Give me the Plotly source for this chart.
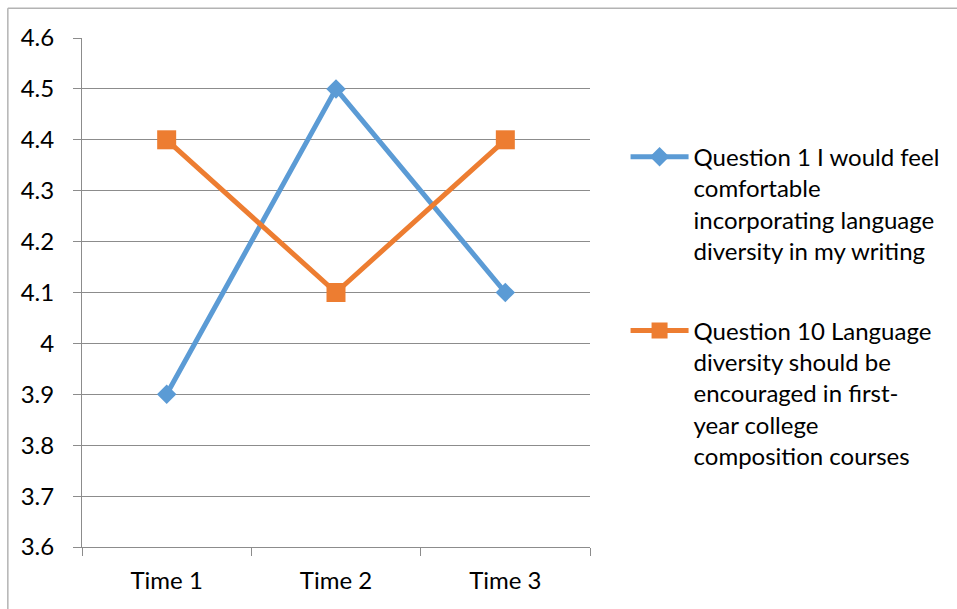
import plotly.graph_objects as go

# Survey averages across three time points
times = ["Time 1", "Time 2", "Time 3"]
q1_values = [3.9, 4.5, 4.1]
q10_values = [4.4, 4.1, 4.4]
q1_name = "Question 1 I would feel<br>comfortable<br>incorporating language<br>diversity in my writing"
q10_name = "Question 10 Language<br>diversity should be<br>encouraged in first-<br>year college<br>composition courses"
y_ticks = [3.6, 3.7, 3.8, 3.9, 4.0, 4.1, 4.2, 4.3, 4.4, 4.5, 4.6]
y_tick_labels = ["3.6", "3.7", "3.8", "3.9", "4", "4.1", "4.2", "4.3", "4.4", "4.5", "4.6"]

FONT = "Lato, Calibri, Carlito, sans-serif"
GRID = "#8c8c8c"

fig = go.Figure()
fig.add_trace(go.Scatter(
    x=times, y=q1_values, name=q1_name, mode="lines+markers",
    legendgroup="q1",
    line=dict(color="#5B9BD5", width=5),
    marker=dict(symbol="diamond", size=15, color="#5B9BD5"),
))
fig.add_trace(go.Scatter(
    x=times, y=q10_values, name=q10_name, mode="lines+markers",
    legendgroup="q10",
    line=dict(color="#ED7D31", width=5),
    marker=dict(symbol="square", size=19, color="#ED7D31"),
))

fig.update_layout(
    width=957, height=609,
    margin=dict(l=82, r=363, t=38, b=62),
    paper_bgcolor="white", plot_bgcolor="white",
    font=dict(family=FONT, size=24, color="#000000"),
    showlegend=True,
    legend=dict(
        x=1.07, xanchor="left", y=0.81, yanchor="top",
        valign="top", tracegroupgap=46, itemwidth=58,
        font=dict(family=FONT, size=24, color="#000000"),
        bgcolor="rgba(0,0,0,0)",
    ),
    xaxis=dict(
        type="category", tickson="boundaries", ticks="outside", ticklen=8,
        tickcolor=GRID, showgrid=False, showline=True, linecolor=GRID,
        linewidth=1, ticklabelstandoff=12, range=[-0.5, 2.5],
    ),
    yaxis=dict(
        range=[3.6, 4.6], tickvals=y_ticks, ticktext=y_tick_labels,
        ticks="outside", ticklen=8, tickcolor=GRID, showgrid=True,
        gridcolor=GRID, gridwidth=1, showline=True, linecolor=GRID,
        linewidth=1, zeroline=False, ticklabelstandoff=14,
    ),
    shapes=[
        dict(type="line", xref="paper", yref="paper",
             x0=-0.146, x1=2.0, y0=1.0583, y1=1.0583,
             line=dict(color="#b3b3b3", width=1.5)),
        dict(type="line", xref="paper", yref="paper",
             x0=-0.146, x1=-0.146, y0=-0.2, y1=1.0583,
             line=dict(color="#b3b3b3", width=1.5)),
    ],
)

fig.write_html("out.html")
